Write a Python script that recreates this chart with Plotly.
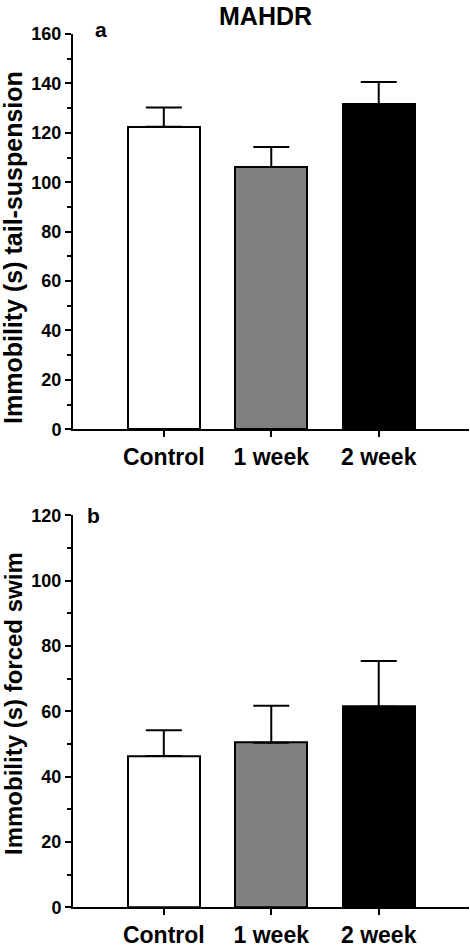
import plotly.graph_objects as go

categories = ["Control", "1 week", "2 week"]
tail_mean = [122.5, 106.2, 131.6]
tail_sem = [7.7, 8.1, 9.0]
swim_mean = [46.3, 50.4, 61.4]
swim_sem = [7.9, 11.3, 14.0]
bar_colors = ["#ffffff", "#808080", "#000000"]
tail_ticks = [0, 20, 40, 60, 80, 100, 120, 140, 160]
swim_ticks = [0, 20, 40, 60, 80, 100, 120]

FONT = "Liberation Sans"
W, H = 470, 947

def px(p):
    return p / W

def py(p):
    return 1 - p / H

fig = go.Figure()
for xa, ya, mean, sem in [("x", "y", tail_mean, tail_sem), ("x2", "y2", swim_mean, swim_sem)]:
    fig.add_trace(go.Bar(
        x=list(range(len(categories))), y=mean, xaxis=xa, yaxis=ya,
        width=0.67,
        marker=dict(color=bar_colors, line=dict(color="black", width=2)),
        error_y=dict(type="data", array=sem, arrayminus=[0] * len(sem), symmetric=False,
                     color="black", thickness=2, width=18),
        showlegend=False,
        cliponaxis=False,
        hoverinfo="skip",
    ))

xcommon = dict(
    range=[-0.845, 2.84], showline=True, linecolor="black", linewidth=2,
    ticks="outside", ticklen=6, tickwidth=2, tickcolor="black",
    tickmode="array", tickvals=list(range(len(categories))), ticktext=categories,
    tickfont=dict(family=FONT, size=23, color="black", weight="bold"),
    showgrid=False, zeroline=False, fixedrange=True, automargin=False,
)
ycommon = dict(
    showline=True, linecolor="black", linewidth=2,
    ticks="outside", ticklen=6, tickwidth=2, tickcolor="black",
    tickfont=dict(family=FONT, size=18, color="black", weight="bold"),
    showgrid=False, zeroline=False, fixedrange=True, automargin=False,
    minor=dict(ticks="outside", ticklen=4, tickwidth=2, tickcolor="black", dtick=10, showgrid=False),
)

xdom = [px(73), px(469)]
fig.update_layout(
    width=W, height=H,
    margin=dict(l=0, r=0, t=0, b=0),
    plot_bgcolor="white", paper_bgcolor="white",
    bargap=0,
    xaxis=dict(domain=xdom, anchor="y", **xcommon),
    yaxis=dict(domain=[py(429.3), py(34)], anchor="x", range=[0, 160],
               tickvals=tail_ticks, **ycommon),
    xaxis2=dict(domain=xdom, anchor="y2", **xcommon),
    yaxis2=dict(domain=[py(907.3), py(515.3)], anchor="x2", range=[0, 120],
                tickvals=swim_ticks, **ycommon),
    annotations=[
        dict(text="MAHDR", x=px(265), y=1, xref="paper", yref="paper",
             showarrow=False, xanchor="center", yanchor="top",
             font=dict(family=FONT, size=25, color="black", weight="bold")),
        dict(text="a", x=px(101), y=py(30), xref="paper", yref="paper",
             showarrow=False, xanchor="center", yanchor="middle",
             font=dict(family=FONT, size=21, color="black", weight="bold")),
        dict(text="b", x=px(93), y=py(515), xref="paper", yref="paper",
             showarrow=False, xanchor="center", yanchor="middle",
             font=dict(family=FONT, size=21, color="black", weight="bold")),
        dict(text="Immobility (s) tail-suspension", x=px(13), y=py(248), xref="paper", yref="paper",
             showarrow=False, xanchor="center", yanchor="middle", textangle=-90,
             font=dict(family=FONT, size=25, color="black", weight="bold")),
        dict(text="Immobility (s) forced swim", x=px(13), y=py(704), xref="paper", yref="paper",
             showarrow=False, xanchor="center", yanchor="middle", textangle=-90,
             font=dict(family=FONT, size=24, color="black", weight="bold")),
    ],
)

fig.write_html(
    "out.html",
    config={"displayModeBar": False},
    post_script="document.body.style.margin='0';document.body.style.overflow='hidden';",
)
